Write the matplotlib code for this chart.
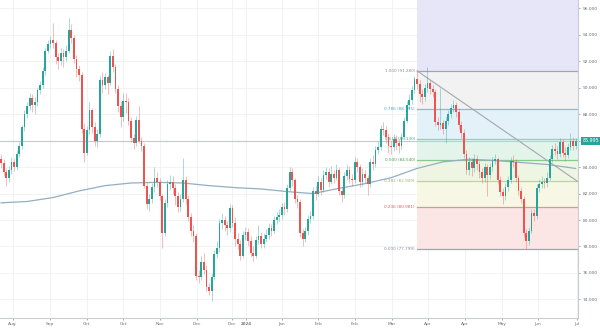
import matplotlib
matplotlib.use("Agg")
import matplotlib.pyplot as plt
import numpy as np

# daily candles, Aug 2023 -> end of Jun 2024 (one entry per session)
first_open = 84.6
closes = [
    84.3, 83.6, 83.2, 83.8, 84.4, 84.0, 85.0, 85.6, 87.0, 88.0,
    88.6, 89.2, 88.7, 88.9, 89.8, 90.2, 91.3, 92.8, 93.3, 93.6,
    93.4, 92.3, 92.0, 92.6, 92.3, 92.8, 94.4, 93.8, 92.2, 91.4,
    91.0, 86.9, 85.1, 86.8, 88.3, 87.0, 86.0, 86.5, 90.6, 90.2,
    90.8, 90.4, 92.4, 91.6, 89.9, 88.6, 87.8, 89.0, 88.9, 87.5,
    86.2, 85.8, 87.6, 86.0, 85.6, 82.6, 81.2, 81.6, 82.5, 83.2,
    82.9, 81.8, 79.0, 81.3, 82.7, 82.9, 82.4, 81.8, 81.0, 81.6,
    83.0, 81.6, 80.2, 79.2, 78.8, 75.8, 75.7, 76.8, 76.2, 74.9,
    74.6, 75.7, 77.4, 77.9, 79.8, 80.0, 79.6, 79.4, 80.9, 79.8,
    78.6, 78.2, 77.3, 78.9, 79.1, 78.4, 77.5, 77.3, 78.5, 78.8,
    78.2, 78.6, 78.9, 79.4, 79.2, 80.0, 80.2, 80.4, 81.0, 80.8,
    82.4, 83.6, 83.0, 81.6, 81.4, 79.0, 78.6, 79.2, 80.1, 80.3,
    82.2, 82.0, 82.9, 82.3, 83.4, 83.6, 82.9, 83.5, 83.2, 83.8,
    82.2, 81.9, 83.3, 83.8, 83.1, 83.0, 84.4, 84.0, 82.9, 83.5,
    83.2, 82.7, 84.4, 84.2, 85.3, 85.5, 86.9, 86.8, 86.3, 85.6,
    85.5, 86.1, 85.8, 85.6, 86.3, 87.5, 88.7, 89.1, 89.8, 90.7,
    90.3, 89.5, 89.3, 90.0, 90.4, 89.9, 89.7, 87.4, 87.2, 87.3,
    86.9, 87.5, 88.0, 88.5, 88.7, 88.2, 87.2, 86.6, 85.0, 83.8,
    84.4, 83.9, 84.6, 84.2, 83.6, 83.2, 84.0, 83.4, 84.0, 84.5,
    84.6, 83.0, 82.1, 81.8, 82.5, 83.0, 84.5, 84.4, 83.2, 82.2,
    81.6, 79.0, 78.4, 79.2, 80.5, 80.3, 82.4, 82.7, 82.9, 82.8,
    83.2, 84.6, 85.4, 85.2, 85.0, 85.9, 85.1, 84.9, 85.5, 86.0,
    85.6, 85.995,
]
highs = [
    85.0, 84.6, 83.9, 84.1, 84.8, 84.7, 85.3, 85.9, 87.2, 88.3,
    88.9, 89.6, 89.5, 89.3, 90.0, 90.5, 91.6, 93.0, 93.6, 93.9,
    94.9, 93.6, 92.6, 93.0, 92.9, 93.2, 95.3, 94.8, 94.0, 92.5,
    91.7, 91.2, 87.3, 87.1, 88.9, 88.5, 87.4, 86.9, 90.9, 91.2,
    91.1, 91.0, 92.8, 92.9, 91.8, 90.2, 89.0, 89.6, 89.6, 89.2,
    87.8, 86.5, 87.9, 88.6, 86.3, 85.8, 82.9, 82.0, 82.8, 84.0,
    83.6, 83.2, 82.0, 81.6, 83.0, 83.4, 83.3, 82.7, 82.1, 82.0,
    84.7, 83.3, 81.9, 80.5, 79.6, 79.0, 76.2, 77.3, 77.5, 76.6,
    75.2, 76.0, 77.7, 78.4, 80.1, 80.5, 80.3, 79.9, 81.2, 81.1,
    80.2, 79.0, 78.5, 79.2, 79.5, 79.4, 78.8, 78.0, 78.8, 79.6,
    79.1, 79.0, 79.3, 79.8, 79.7, 80.3, 80.6, 80.8, 81.3, 81.4,
    82.7, 84.0, 83.9, 83.2, 81.9, 81.6, 79.3, 79.5, 80.4, 80.7,
    82.5, 82.6, 83.3, 83.2, 83.8, 84.0, 83.9, 84.1, 83.8, 84.2,
    84.0, 82.5, 83.6, 84.2, 84.1, 83.5, 84.8, 84.7, 84.2, 83.9,
    83.8, 83.4, 84.7, 84.9, 85.6, 86.0, 87.2, 87.4, 87.1, 86.6,
    86.0, 86.5, 86.4, 86.1, 86.6, 87.8, 89.0, 89.5, 90.1, 90.9,
    91.28, 90.6, 89.9, 90.3, 91.6, 90.6, 90.2, 89.9, 87.8, 90.0,
    87.6, 87.8, 88.3, 88.8, 89.1, 88.9, 88.5, 87.5, 86.9, 85.3,
    84.8, 84.7, 85.0, 84.9, 84.5, 83.9, 84.3, 84.2, 84.3, 84.8,
    85.0, 84.8, 83.3, 82.4, 82.8, 83.3, 84.8, 84.9, 84.6, 83.4,
    82.5, 81.8, 79.3, 79.5, 80.8, 80.8, 82.7, 83.1, 83.3, 83.2,
    83.6, 84.9, 85.7, 85.8, 85.6, 86.2, 86.1, 85.5, 85.8, 86.6,
    86.3, 86.2,
]
lows = [
    83.9, 83.3, 82.6, 82.9, 83.5, 83.7, 83.8, 84.8, 85.4, 86.7,
    87.7, 88.3, 88.2, 88.0, 88.6, 89.5, 90.0, 91.0, 92.6, 93.0,
    93.0, 91.8, 91.4, 91.7, 91.6, 92.0, 92.6, 93.4, 91.9, 90.8,
    90.5, 86.6, 84.4, 84.9, 86.5, 86.6, 85.6, 85.5, 86.3, 89.6,
    89.9, 89.5, 90.2, 91.2, 89.6, 88.2, 87.0, 87.5, 88.1, 87.2,
    85.9, 85.4, 85.6, 85.8, 85.2, 82.4, 80.8, 80.7, 81.3, 82.1,
    82.5, 81.5, 77.9, 78.8, 81.0, 82.3, 82.0, 81.1, 80.6, 80.7,
    81.4, 81.2, 79.9, 78.8, 78.3, 75.5, 75.2, 75.5, 75.9, 74.6,
    74.3, 73.9, 75.5, 77.1, 77.6, 79.3, 79.2, 78.9, 79.1, 79.5,
    78.0, 77.8, 77.0, 77.1, 78.5, 78.0, 77.2, 76.9, 77.1, 78.2,
    77.9, 77.9, 78.3, 78.6, 78.8, 79.0, 79.7, 79.9, 80.1, 80.4,
    80.6, 82.2, 82.6, 81.3, 80.9, 78.7, 78.0, 78.3, 78.9, 79.8,
    80.1, 81.5, 81.8, 81.9, 82.1, 83.1, 82.5, 82.7, 82.8, 83.0,
    81.9, 81.4, 81.7, 83.0, 82.8, 82.6, 82.8, 83.6, 82.5, 82.6,
    82.8, 81.9, 82.5, 83.8, 84.0, 85.0, 85.3, 86.4, 85.8, 85.1,
    85.0, 85.2, 85.3, 85.1, 85.4, 86.1, 87.3, 88.4, 88.8, 89.6,
    89.9, 88.9, 88.8, 89.0, 89.7, 89.5, 89.3, 87.1, 86.8, 86.9,
    86.5, 85.8, 87.2, 87.7, 88.2, 87.8, 86.9, 86.2, 84.7, 83.5,
    83.4, 83.3, 83.6, 83.8, 83.2, 82.8, 82.9, 81.8, 83.1, 83.7,
    84.2, 82.7, 81.8, 81.2, 81.5, 82.2, 82.8, 84.0, 82.9, 81.9,
    81.3, 78.7, 77.8, 78.1, 79.0, 79.9, 80.1, 82.1, 82.4, 82.4,
    82.5, 83.0, 84.4, 84.9, 84.6, 84.8, 84.8, 84.5, 84.7, 85.3,
    85.3, 85.4,
]
opens = [first_open] + closes[:-1]

# long moving average, sampled every 10 sessions
ma_idx = [0, 10, 20, 30, 40, 50, 60, 70, 80, 90, 100, 110, 120,
          130, 140, 150, 160, 170, 180, 190, 200, 210, 221]
ma_val = [81.3, 81.4, 81.7, 82.2, 82.6, 82.8, 82.85, 82.8, 82.6, 82.45,
          82.35, 82.15, 82.0, 82.4, 82.75, 83.2, 83.9, 84.4, 84.6, 84.5,
          84.35, 84.2, 83.9]

# fib retracement anchors (swing high in April, swing low in June)
fib_x0 = 160
fib_high = 91.280
fib_low = 77.799
fib_ratios = [1.0, 0.786, 0.618, 0.5, 0.382, 0.236, 0.0]
fib_line_colors = ["#a3a6af", "#84bde3", "#8fcfbf", "#86c98c", "#c2d77e", "#ea8e8e", "#a3a6af"]
fib_fill_colors = ["#e7e5f8", "#f2f2f3", "#e3f1f9", "#e3f4ea", "#eef6e3", "#f6f8e5", "#fbe5e5"]
fib_text_colors = ["#8a8d96", "#4d9fd6", "#3fae8f", "#43a047", "#9fba3c", "#e05a5a", "#8a8d96"]

# descending trendline from the April high
trend_x = [160, 221.9]
trend_y = [91.28, 82.9]

last_price = 85.995

tick_pos = [4.5, 18.8, 33.0, 47.0, 61.0, 75.3, 88.8, 94.2, 108.0, 122.0,
            136.0, 150.4, 164.2, 178.5, 192.7, 206.5, 221.5]
tick_lbl = ["Aug", "Sep", "Oct", "Oct", "Nov", "Dec", "Dec", "2024", "Jan", "Feb",
            "Feb", "Mar", "Apr", "Apr", "May", "Jun", "Jul"]
price_ticks = np.arange(74, 97, 2)

up_col = "#26a69a"
dn_col = "#ef5350"
grid_col = "#eef0f3"

fig = plt.figure(figsize=(6.0, 3.29), dpi=100)
fig.patch.set_facecolor("white")
ax = fig.add_axes([0.0, 11 / 329, 578 / 600, 318 / 329])
x_right = 221.9
ax.set_xlim(-0.4, x_right)
ax.set_ylim(72.59, 96.64)

# grid
for p in price_ticks:
    ax.axhline(p, color=grid_col, lw=0.6, zorder=0)
for t in tick_pos:
    ax.axvline(t, color=grid_col, lw=0.6, zorder=0)

# fib zones
span = fib_high - fib_low
levels = [fib_low + r * span for r in fib_ratios]
top_level = fib_low + 1.618 * span
bounds = [top_level] + levels
for i in range(len(fib_ratios)):
    ax.fill_between([fib_x0, x_right + 1], bounds[i + 1], bounds[i],
                    color=fib_fill_colors[i], lw=0, zorder=1)
for r, lv, lc, tc in zip(fib_ratios, levels, fib_line_colors, fib_text_colors):
    ax.plot([fib_x0, x_right + 1], [lv, lv], color=lc, lw=0.9, zorder=2)
    ax.text(fib_x0 - 0.8, lv, f"{r:.3f} ({lv:.3f})", ha="right", va="center",
            fontsize=3.0, color=tc, zorder=2)

# last price line
ax.axhline(last_price, color="#a6d8d3", lw=0.8, zorder=2)

# moving average and trendline
ax.plot(ma_idx, ma_val, color="#94aec4", lw=0.9, zorder=3)
ax.plot(trend_x, trend_y, color="#a4a8b0", lw=0.8, zorder=3)

# candles
x = np.arange(len(closes))
o = np.array(opens)
c = np.array(closes)
h = np.maximum(np.array(highs), np.maximum(o, c))
l = np.minimum(np.array(lows), np.minimum(o, c))
cols = np.where(c >= o, up_col, dn_col)
ax.vlines(x, l, h, colors=cols, lw=0.5, alpha=0.55, zorder=4)
body = np.maximum(np.abs(c - o), 0.06)
ax.bar(x, body, bottom=np.minimum(o, c), width=0.72, color=cols, lw=0, zorder=5)

# axes styling
for s in ["top", "left"]:
    ax.spines[s].set_visible(False)
for s in ["right", "bottom"]:
    ax.spines[s].set_color("#c9ccd3")
    ax.spines[s].set_linewidth(0.8)
ax.yaxis.tick_right()
ax.set_yticks(price_ticks)
ax.set_yticklabels([f"{p:.3f}" for p in price_ticks])
ax.set_xticks(tick_pos)
ax.set_xticklabels(tick_lbl)
ax.tick_params(axis="y", labelsize=3.2, colors="#6b6e76", length=1.5, width=0.4, pad=2)
ax.tick_params(axis="x", labelsize=3.2, colors="#6b6e76", length=1.5, width=0.4, pad=1.5)
for lbl in ax.get_xticklabels():
    if lbl.get_text() == "2024":
        lbl.set_color("#2a2e39")

# last price tag on the scale
ax.annotate(f"{last_price:.3f}", xy=(1.0, last_price), xycoords=("axes fraction", "data"),
            xytext=(3, 0), textcoords="offset points", ha="left", va="center",
            fontsize=3.4, color="white", annotation_clip=False,
            bbox=dict(boxstyle="square,pad=0.35", fc=up_col, ec="none"))

fig.savefig("out.png", dpi=100, facecolor="white")
